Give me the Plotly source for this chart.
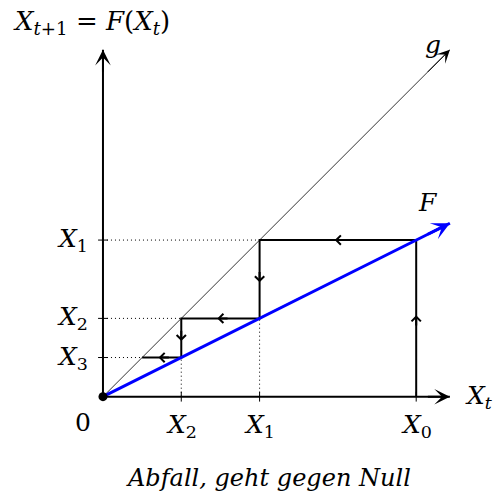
import plotly.graph_objects as go

# cobweb iteration X_{t+1} = F(X_t) with F(x) = 0.5 x, starting at X_0 = 4
slope = 0.5
x_start = 4.0
n_steps = 3
axis_end = 4.43  # length of both axes (and of the g / F lines)

# tick positions and labels
x_tick_vals = [1.0, 2.0, 4.0]
x_tick_subs = ["2", "1", "0"]
y_tick_vals = [2.0, 1.0, 0.5]
y_tick_subs = ["1", "2", "3"]

caption = "Abfall, geht gegen Null"

# iterates X_0, X_1, ...
xs = [x_start]
for _ in range(n_steps):
    xs.append(slope * xs[-1])

# cobweb path: up to F, across to the diagonal, repeat
path_x, path_y = [xs[0]], [0.0]
for k in range(n_steps):
    path_x += [xs[k], xs[k + 1]]
    path_y += [xs[k + 1], xs[k + 1]]
segments = list(zip(zip(path_x[:-1], path_y[:-1]), zip(path_x[1:], path_y[1:])))

SERIF = "DejaVu Serif"
BLACK = "#000000"
BLUE = "#0000ff"

fig = go.Figure()

# dotted guide lines
for v in y_tick_vals:
    fig.add_trace(go.Scatter(x=[0, v], y=[v, v], mode="lines",
                             line=dict(color=BLACK, width=1, dash="1px,3px"),
                             hoverinfo="skip"))
for v in [1.0, 2.0]:
    fig.add_trace(go.Scatter(x=[v, v], y=[0, slope * v], mode="lines",
                             line=dict(color=BLACK, width=1, dash="1px,3px"),
                             hoverinfo="skip"))

# diagonal g
fig.add_trace(go.Scatter(x=[0, axis_end], y=[0, axis_end], mode="lines",
                         line=dict(color=BLACK, width=0.8), hoverinfo="skip"))

# cobweb path
fig.add_trace(go.Scatter(x=path_x, y=path_y, mode="lines",
                         line=dict(color=BLACK, width=2), hoverinfo="skip"))

# map F
fig.add_trace(go.Scatter(x=[0, axis_end], y=[0, slope * axis_end], mode="lines",
                         line=dict(color=BLUE, width=3), hoverinfo="skip"))

# axes
fig.add_trace(go.Scatter(x=[0, axis_end], y=[0, 0], mode="lines",
                         line=dict(color=BLACK, width=2), hoverinfo="skip"))
fig.add_trace(go.Scatter(x=[0, 0], y=[0, axis_end], mode="lines",
                         line=dict(color=BLACK, width=2), hoverinfo="skip"))

# tick marks
fig.add_trace(go.Scatter(x=x_tick_vals, y=[0] * len(x_tick_vals), mode="markers",
                         marker=dict(symbol="line-ns", size=7,
                                     line=dict(color=BLACK, width=1)),
                         hoverinfo="skip"))
fig.add_trace(go.Scatter(x=[0] * len(y_tick_vals), y=y_tick_vals, mode="markers",
                         marker=dict(symbol="line-ew", size=7,
                                     line=dict(color=BLACK, width=1)),
                         hoverinfo="skip"))

# origin dot
fig.add_trace(go.Scatter(x=[0], y=[0], mode="markers",
                         marker=dict(color=BLACK, size=9), hoverinfo="skip"))

annotations = []


def arrow(x0, y0, x1, y1, color, width, head, size):
    annotations.append(dict(x=x1, y=y1, ax=x0, ay=y0, xref="x", yref="y",
                            axref="x", ayref="y", text="", showarrow=True,
                            arrowhead=head, arrowsize=size, arrowwidth=width,
                            arrowcolor=color, standoff=0, startstandoff=0))


# axis and line arrow heads
arrow(axis_end - 0.3, 0, axis_end, 0, BLACK, 2, 3, 1.3)
arrow(0, axis_end - 0.3, 0, axis_end, BLACK, 2, 3, 1.3)
arrow(axis_end - 0.3, axis_end - 0.3, axis_end, axis_end, BLACK, 1, 3, 2.2)
arrow(axis_end - 0.3, slope * (axis_end - 0.3), axis_end, slope * axis_end, BLUE, 3, 3, 1.0)

# mid-segment arrows on the cobweb
for (a, b) in segments:
    (x0, y0), (x1, y1) = a, b
    mx, my = (x0 + x1) / 2, (y0 + y1) / 2
    L = ((x1 - x0) ** 2 + (y1 - y0) ** 2) ** 0.5
    dx, dy = (x1 - x0) / L, (y1 - y0) / L
    hx, hy = mx + 0.04 * dx, my + 0.04 * dy
    arrow(hx - 0.15 * dx, hy - 0.15 * dy, hx, hy, BLACK, 2, 4, 0.9)


def label(x, y, text, size=25, xanchor="center", yanchor="middle"):
    annotations.append(dict(x=x, y=y, xref="x", yref="y", text=text,
                            showarrow=False, xanchor=xanchor, yanchor=yanchor,
                            font=dict(family=SERIF, size=size, color=BLACK)))


for v, s in zip(x_tick_vals, x_tick_subs):
    label(v, -0.37, "<i>X</i><sub>" + s + "</sub>")
for v, s in zip(y_tick_vals, y_tick_subs):
    label(-0.17, v, "<i>X</i><sub>" + s + "</sub>", xanchor="right")

label(-0.25, -0.33, "0")
label(4.6, 0.0, "<i>X</i><sub><i>t</i></sub>", xanchor="left")
label(4.21, 4.5, "<i>g</i>")
label(4.15, 2.48, "<i>F</i>")
label(-1.17, 4.78,
      "<i>X</i><sub><i>t</i>+1</sub>\u00a0=\u00a0<i>F</i>(<i>X</i><sub><i>t</i></sub>)",
      size=26, xanchor="left")
label(2.12, -1.04, "<i>" + caption + "</i>", size=24)

fig.update_layout(
    width=496, height=498,
    margin=dict(l=0, r=0, t=0, b=0),
    paper_bgcolor="white", plot_bgcolor="white",
    showlegend=False,
    annotations=annotations,
    xaxis=dict(range=[-1.315, 5.019], visible=False, fixedrange=True),
    yaxis=dict(range=[-1.294, 5.066], visible=False, fixedrange=True),
)

fig.write_html("out.html")
